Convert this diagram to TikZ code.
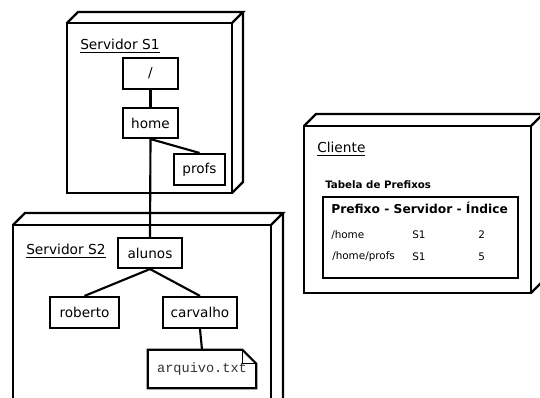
\documentclass[tikz,border=0pt]{standalone}
\usepackage{fontspec}
\setmainfont{DejaVu Sans}
\newfontfamily\monofont{Liberation Mono}
\usetikzlibrary{calc}

% one drawing unit is 0.75pt; box sizes below are given in those units
\tikzset{
  dirbox/.style={draw, line width=1.6pt, rectangle, inner sep=0pt,
    font=\fontsize{10.2}{12}\selectfont},
  bw/.style={minimum width={#1*0.75pt}},
  bh/.style={minimum height={#1*0.75pt}},
  edge/.style={line width=1.6pt},
  frame/.style={line width=1.6pt, line join=miter},
  title/.style={anchor=base west, inner sep=0pt, font=\fontsize{10.3}{12}\selectfont},
  cell/.style={anchor=west, inner sep=0pt, font=\fontsize{7.8}{9}\selectfont},
}

% a cube-like deployment box: front face (x1,y1)-(x2,y2), depth d
\newcommand{\deploybox}[5]{%
  \draw[frame] (#1,#2) rectangle (#3,#4);
  \draw[frame] (#1,#2) -- (#1+#5,#2-#5) -- (#3+#5,#2-#5) -- (#3,#2);
  \draw[frame] (#3+#5,#2-#5) -- (#3+#5,#4-#5) -- (#3,#4);
}

\begin{document}
\begin{tikzpicture}[x=0.75pt, y=-0.75pt]
  \useasboundingbox (0,0) rectangle (540,398);
  \clip (0,0) rectangle (540,398);
  \fill[white] (0,0) rectangle (540,398);

  % Servidor S1
  \deploybox{67}{23}{232}{193}{11}
  \node[title] (s1) at (80,50) {\underline{Servidor S1}};
  \node[dirbox, bw=55, bh=31] (root) at (150.5,73.5) {/};
  \node[dirbox, bw=55, bh=30] (home) at (150.5,123) {home};
  \node[dirbox, bw=51, bh=31] (profs) at (199.5,169.5) {profs};

  % Servidor S2
  \deploybox{13}{225}{271}{420}{12}
  \node[title] (s2) at (26,255) {\underline{Servidor S2}};
  \node[dirbox, bw=64, bh=30] (alunos) at (150,253) {alunos};
  \node[dirbox, bw=69, bh=31] (roberto) at (84.5,312.5) {roberto};
  \node[dirbox, bw=74, bh=31] (carvalho) at (200,312.5) {carvalho};
  \node[inner sep=0pt, bw=108, bh=38,
        font=\monofont\fontsize{10.2}{12}\selectfont, text=black!80] (arq) at (202,369) {arquivo.txt};
  \draw[frame] (arq.north west) -- ($(arq.north east)+(-14,0)$) -- ($(arq.north east)+(0,14)$)
    -- (arq.south east) -- (arq.south west) -- cycle;
  \draw[line width=0.8pt] ($(arq.north east)+(-14,0)$) -- ($(arq.north east)+(-14,14)$)
    -- ($(arq.north east)+(0,14)$);

  % tree connectors
  \draw[edge] (root.south) -- (home.north);
  \draw[edge] (home.south) -- (profs.north);
  \draw[edge] (home.south) -- (alunos.north);
  \draw[edge] (alunos.south) -- (roberto.north);
  \draw[edge] (alunos.south) -- (carvalho.north);
  \draw[edge] (carvalho.south) -- (arq.north);

  % Cliente
  \deploybox{304}{126}{531}{293}{12}
  \node[title] (cl) at (317,153) {\underline{Cliente}};
  \node[anchor=west, inner sep=0pt, font=\bfseries\fontsize{7.7}{9}\selectfont] (tab) at (325,185) {Tabela de Prefixos};
  \node[draw, line width=1.6pt, bw=195, bh=81, inner sep=0pt] (tbl) at (420.5,237.5) {};
  \node[anchor=west, inner sep=0pt, font=\bfseries\fontsize{9.2}{11}\selectfont] (hdr) at (331,208) {Prefixo - Servidor - Índice};
  \node[cell] (p1) at (331,235) {/home};
  \node[cell] (v1) at (412,235) {S1};
  \node[cell] (i1) at (478,235) {2};
  \node[cell] (p2) at (332,257) {/home/profs};
  \node[cell] (v2) at (412,257) {S1};
  \node[cell] (i2) at (478,257) {5};
\end{tikzpicture}
\end{document}
